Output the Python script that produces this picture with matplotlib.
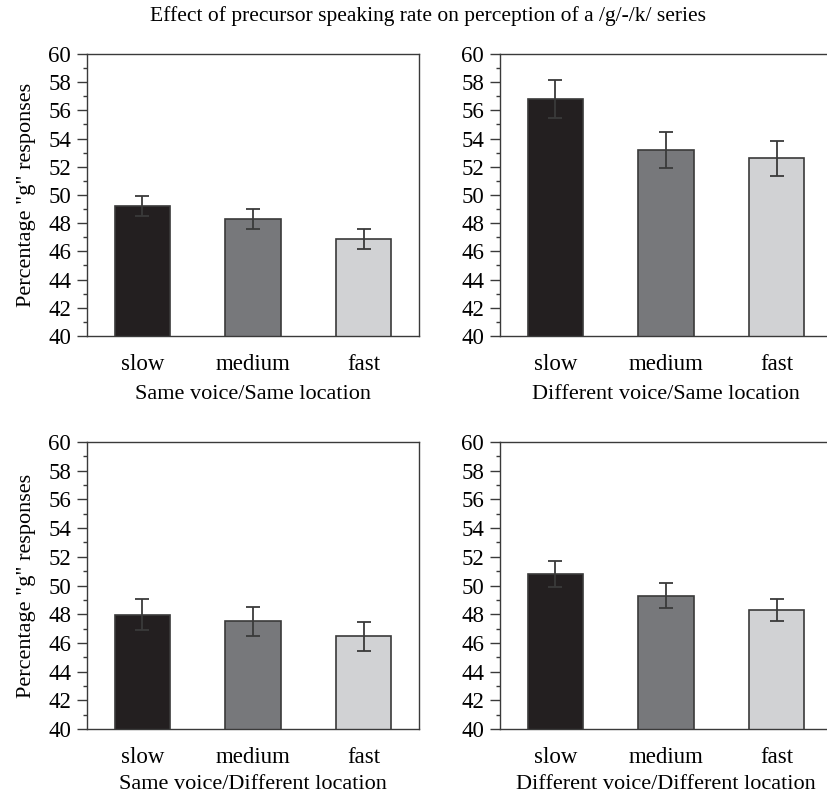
import matplotlib
matplotlib.use("Agg")
import matplotlib.pyplot as plt
from matplotlib.ticker import MultipleLocator

plt.rcParams['font.family'] = ['Liberation Serif', 'DejaVu Serif']

rates = ['slow', 'medium', 'fast']
bar_colors = ['#231f20', '#77787b', '#d1d2d4']

# means and standard errors per panel
same_same = [49.2, 48.3, 46.9]
same_same_err = [0.72, 0.70, 0.72]
diff_same = [56.8, 53.2, 52.6]
diff_same_err = [1.33, 1.28, 1.23]
same_diff = [47.95, 47.5, 46.45]
same_diff_err = [1.08, 1.0, 1.04]
diff_diff = [50.8, 49.3, 48.3]
diff_diff_err = [0.92, 0.85, 0.77]

panel_titles = ['Same voice/Same location', 'Different voice/Same location',
                'Same voice/Different location', 'Different voice/Different location']

W, H = 827, 795
fig = plt.figure(figsize=(W / 100, H / 100), dpi=100)

def px_axes(x0, y0, x1, y1):
    return fig.add_axes([x0 / W, 1 - y1 / H, (x1 - x0) / W, (y1 - y0) / H])

axes = [px_axes(87, 54, 419, 336), px_axes(500, 54, 832, 336),
        px_axes(87, 442, 419, 729), px_axes(500, 442, 832, 729)]
data = [(same_same, same_same_err), (diff_same, diff_same_err),
        (same_diff, same_diff_err), (diff_diff, diff_diff_err)]

edge = '#3a3a3a'
for i, ax in enumerate(axes):
    vals, errs = data[i]
    ax.bar(range(3), vals, width=0.5, color=bar_colors, edgecolor=edge,
           linewidth=1.2, yerr=errs,
           error_kw=dict(ecolor=edge, elinewidth=1.3, capsize=4.8, capthick=1.3),
           zorder=2)
    ax.set_xlim(-0.5, 2.5)
    ax.set_ylim(40, 60)
    ax.yaxis.set_major_locator(MultipleLocator(2))
    ax.yaxis.set_minor_locator(MultipleLocator(1))
    ax.tick_params(axis='y', which='major', direction='out', length=7.5,
                   width=1.0, color=edge, labelsize=16.5, pad=4)
    ax.tick_params(axis='y', which='minor', direction='out', length=3,
                   width=1.0, color=edge)
    ax.set_xticks(range(3))
    ax.set_xticklabels(rates)
    ax.tick_params(axis='x', length=0, labelsize=16.5, pad=13)
    for s in ax.spines.values():
        s.set_color(edge)
        s.set_linewidth(1.0)
    ax.set_xlabel(panel_titles[i], fontsize=16, labelpad=7 if i < 2 else 5)
    if i % 2 == 0:
        ax.set_ylabel('Percentage "g" responses', fontsize=16, labelpad=9)

fig.text(428 / W, 1 - 16 / H,
         'Effect of precursor speaking rate on perception of a /g/-/k/ series',
         ha='center', va='center', fontsize=15.5)

fig.savefig('out.png', dpi=100)
